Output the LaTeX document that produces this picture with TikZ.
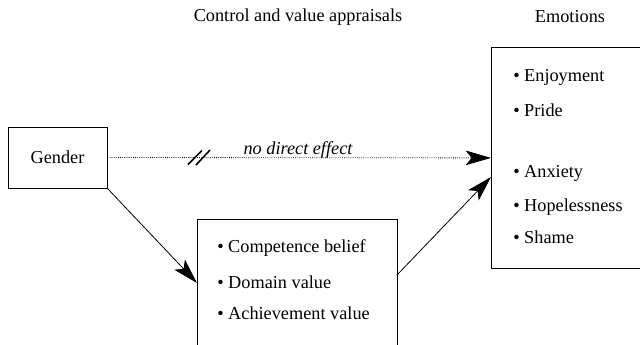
\documentclass[tikz,border=0pt]{standalone}
\usepackage{fontspec}
\setmainfont{Liberation Serif}
\usetikzlibrary{positioning,arrows.meta}

\begin{document}
\begin{tikzpicture}[x=0.75pt,y=-0.75pt,
    font=\fontsize{13.7}{16}\selectfont,
    box/.style={draw,line width=0.6pt,inner sep=0pt},
    item/.style={anchor=west,inner sep=0pt},
    link/.style={-{Stealth[length=19pt,width=11pt,inset=4.5pt]},line width=0.6pt}]
    \clip (0,0) rectangle (640,344);
    % Titulos das colunas
    \node (apprhead) at (298,17) {Control and value appraisals};
    \node (emohead) at (570,17) {Emotions};
    % Caixas
    \node[box,minimum width=74.25pt,minimum height=45.75pt] (gender) at (57.5,157.5) {Gender};
    \node[box,anchor=north west,minimum width=150pt,minimum height=105.75pt] (appr) at (197,219) {};
    \node[box,anchor=north west,minimum width=126.75pt,minimum height=165.75pt] (emo) at (491,47) {};
    % Itens
    \foreach \n/\t/\y in {comp/Competence belief/248,dom/Domain value/282,ach/Achievement value/313}
        {\node[item] (\n) at (217,\y) {\textbullet\ \t};}
    \foreach \n/\t/\y in {enj/Enjoyment/77,pri/Pride/110,anx/Anxiety/173,hop/Hopelessness/207,sha/Shame/237}
        {\node[item] (\n) at (513,\y) {\textbullet\ \t};}
    % Pontos de entrada e saida das setas
    \coordinate (apprin) at (197,283);
    \coordinate (approut) at (397,275);
    \coordinate (emoin) at (491,177);
    \coordinate (cut) at (199,157.5);
    % Setas
    \draw[link,densely dotted] (gender.east) -- (emo.west);
    \draw[link] (gender.south east) -- (apprin);
    \draw[link] (approut) -- (emoin);
    \node[font=\fontsize{13.7}{16}\selectfont\itshape] (nodirect) at (298,150) {no direct effect};
    % Corte do efeito direto
    \draw[line width=1.2pt] ([shift={(-11,7)}]cut) -- ([shift={(3,-7)}]cut);
    \draw[line width=1.2pt] ([shift={(-3,7.5)}]cut) -- ([shift={(11,-7.5)}]cut);
\end{tikzpicture}
\end{document}
